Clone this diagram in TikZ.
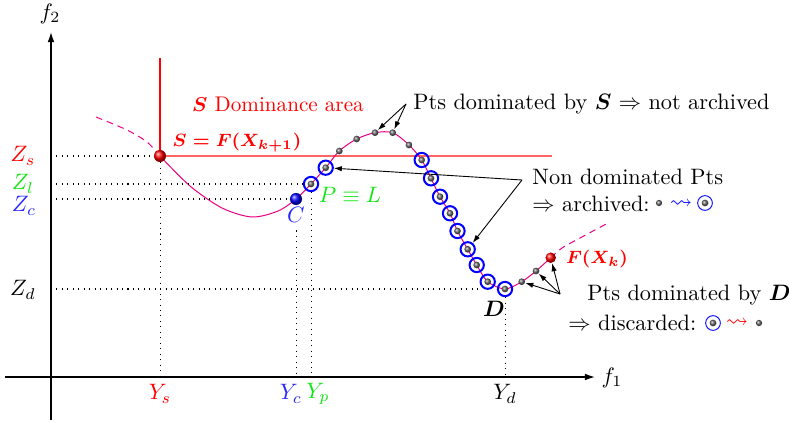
\documentclass[tikz,border=0pt]{standalone}
\usepackage{amsmath,amssymb,bm}
\usetikzlibrary{arrows.meta,shadings}
\definecolor{curvecol}{RGB}{235,0,130}
\definecolor{zgreen}{RGB}{20,230,20}
\definecolor{zblue}{RGB}{40,40,255}
\definecolor{lightred}{RGB}{255,100,100}
\tikzset{
  axis/.style={line width=0.6pt,-{Latex[length=4.5pt,width=3pt]}},
  ptr/.style={line width=0.4pt,-{Latex[length=3.6pt,width=2.4pt]}},
  guide/.style={dotted,line width=0.45pt},
  curve/.style={draw=curvecol,line width=0.45pt},
  gball/.style={circle,shading=ball,ball color=black!60,minimum size=3pt,inner sep=0pt},
  cring/.style={circle,draw=blue,line width=0.9pt,minimum size=6.4pt,inner sep=0pt},
  lring/.style={circle,draw=blue,line width=0.4pt,minimum size=6.6pt,inner sep=0pt},
  bigball/.style={circle,shading=ball,minimum size=5.4pt,inner sep=0pt},
  txt/.style={inner sep=0pt,anchor=west},
}
\begin{document}
\begin{tikzpicture}[x=0.4484pt,y=-0.4484pt]
\path[use as bounding box] (0,0) rectangle (789,423);
% axes
\coordinate (yb) at (51,420);
\coordinate (yt) at (51,32);
\coordinate (xl) at (5,377);
\coordinate (xr) at (595,377);
\draw[axis] (yb) -- (yt);
\draw[axis] (xl) -- (xr);
\node (f2) at (50,14) {$f_2$};
\node (f1) at (612,378) {$f_1$};
% key points
\coordinate (S) at (160,156);
\coordinate (C) at (296,199);
\coordinate (Dp) at (505,289);
\coordinate (Fp) at (550.7,257.7);
% dominance area of S
\coordinate (Stop) at (160,58);
\coordinate (Sright) at (552,156);
\draw[red,line width=0.5pt] (S) -- (Stop);
\draw[lightred,line width=0.9pt] (S) -- (Sright);
\node[text=red,font=\fontsize{9.5}{11}\selectfont] (dom) at (278,104) {$\bm{S}$ Dominance area};
\node[text=red,font=\footnotesize\boldmath] (Slab) at (237,143) {$S=F(X_{k+1})$};
% curve
\draw[curve,dash pattern=on 3pt off 2.2pt] plot[smooth] coordinates {(96,117) (127,130) (147,142) (160,156)};
\draw[curve] plot[smooth] coordinates {(160,156) (190,186) (222,208) (252,217) (278,211) (296,199) (311,184) (325.7,167.7) (339.3,151) (356.7,139) (375,132.7) (392.7,132.7) (409,145) (421.7,160) (431,178.3) (440,196.7) (450,213.3) (457.5,231) (467.7,249.3) (476.7,265) (487.7,281.7) (505,289) (521.7,281.7) (536,271) (550.7,257.7)};
\draw[curve,dash pattern=on 3pt off 2.2pt] plot[smooth] coordinates {(550.7,257.7) (562,248) (580,238) (610,222)};
% non dominated (archived) points
\foreach \n/\p in {c1/{(311,184)},c2/{(325.7,167.7)},c3/{(421.7,160)},c4/{(431,178.3)},c5/{(440,196.7)},c6/{(450,213.3)},c7/{(457.5,231)},c8/{(467.7,249.3)},c9/{(476.7,265)},c10/{(487.7,281.7)},D/{(505,289)}}{
  \node[cring] (\n) at \p {};
  \node[gball] (\n b) at \p {};
}
% dominated points
\foreach \n/\p in {u1/{(339.3,151)},u2/{(356.7,139)},u3/{(375,132.7)},u4/{(392.7,132.7)},u5/{(409,145)},d1/{(521.7,281.7)},d2/{(536,271)}}{
  \node[gball] (\n) at \p {};
}
% big balls
\node[bigball,ball color=red] (Sb) at (S) {};
\node[bigball,ball color=blue] (Cb) at (C) {};
\node[bigball,ball color=red,minimum size=4.7pt] (Fb) at (Fp) {};
% labels
\node[text=zblue] (Clab) at (296,215) {$C$};
\node[text=zgreen] (PL) at (350,195) {$P\equiv L$};
\node (Dlab) at (494,309) {$\bm{D}$};
\node[text=red,font=\footnotesize\boldmath] (Flab) at (597,259) {$F(X_k)$};
% guide lines
\draw[guide] (S -| yb) -- (Sb);
\draw[guide] (c1 -| yb) -- (c1.west);
\draw[guide] (C -| yb) -- (Cb.west);
\coordinate (Zdend) at (482,289);
\draw[guide] (Dp -| yb) -- (Zdend);
\draw[guide] (Sb) -- (S |- xl);
\draw[guide] (Clab.south) -- (Clab.south |- xl);
\draw[guide] (c1.south) -- (c1.south |- xl);
\draw[guide] (D.south) -- (D.south |- xl);
% axis labels
\node[text=red] (Zs) at (23,156) {$Z_s$};
\node[text=zgreen] (Zl) at (23,184) {$Z_l$};
\node[text=zblue] (Zc) at (24,206) {$Z_c$};
\node (Zd) at (23,290) {$Z_d$};
\node[text=red] (Ys) at (160,394) {$Y_s$};
\node[text=zblue] (Yc) at (291,394) {$Y_c$};
\node[text=zgreen] (Yp) at (318,394) {$Y_p$};
\node (Yd) at (505,394) {$Y_d$};
% annotations
\coordinate (aS) at (406,104);
\coordinate (aN) at (522,180);
\coordinate (aD) at (560,294);
\node[txt] (tS) at (413,104) {Pts dominated by $\bm{S}$ $\Rightarrow$ not archived};
\draw[ptr] (aS) -- (u3);
\draw[ptr] (aS) -- (u4);
\node[txt] (tN1) at (532,177) {Non dominated Pts};
\node[txt] (tN2) at (532,204) {$\Rightarrow$ archived:};
\node[gball,minimum size=2.8pt] (lN1) at (659,203) {};
\node[text=blue,inner sep=0pt] (lN2) at (681,204) {$\leadsto$};
\node[lring] (lN3) at (705,203) {};
\node[gball] (lN3b) at (705,203) {};
\draw[ptr] (aN) -- (c2);
\draw[ptr] (aN) -- (c8);
\node[txt] (tD1) at (587,295) {Pts dominated by $\bm{D}$};
\node[txt] (tD2) at (568,323) {$\Rightarrow$ discarded:};
\node[lring] (lD1) at (713,323) {};
\node[gball] (lD1b) at (713,323) {};
\node[text=red,inner sep=0pt] (lD2) at (737,323) {$\leadsto$};
\node[gball,minimum size=2.8pt] (lD3) at (759,323) {};
\draw[ptr] (aD) -- (d1);
\draw[ptr] (aD) -- (d2);
\draw[ptr] (aD) -- (Fb);
\end{tikzpicture}
\end{document}
